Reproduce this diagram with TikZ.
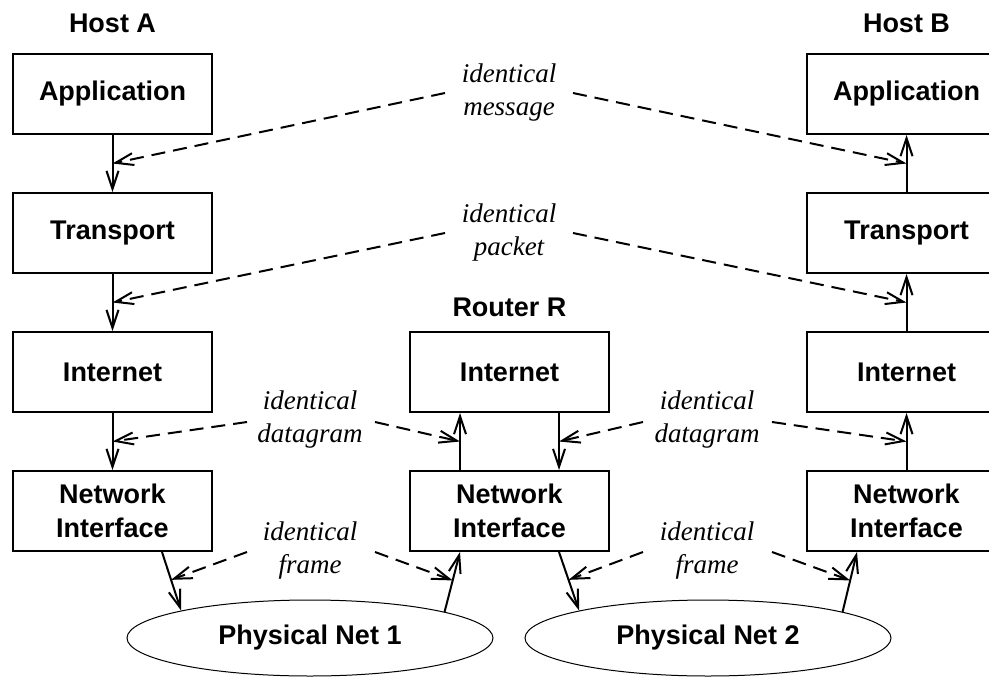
\documentclass[tikz,border=0pt]{standalone}
\usepackage{fontspec}
\setmainfont{Liberation Serif}
\setsansfont{Liberation Sans}
\usetikzlibrary{arrows.meta,shapes.geometric,calc}

\begin{document}
\begin{tikzpicture}[x=1pt,y=-1pt,
  layer/.style={draw,line width=2pt,minimum width=199pt,minimum height=80pt,
    inner sep=0pt,align=center,font=\sffamily\bfseries\fontsize{27}{34}\selectfont},
  title/.style={anchor=base,inner sep=0pt,font=\sffamily\bfseries\fontsize{27}{34}\selectfont},
  net/.style={draw,ellipse,line width=1pt,minimum width=366pt,minimum height=76pt,
    inner sep=0pt,font=\sffamily\bfseries\fontsize{27}{34}\selectfont},
  same/.style={align=center,inner sep=0pt,font=\itshape\fontsize{27}{33}\selectfont},
  arr/.style={line width=2pt,-{Straight Barb[length=18pt,width=12pt]}},
  dasharr/.style={arr,dash pattern=on 14pt off 8pt},
]
\useasboundingbox (0,0) rectangle (989,678);
\clip (0,0) rectangle (989,678);

% column titles
\node[title] (hostA)  at (112.5,32) {Host A};
\node[title] (hostB)  at (906.5,32) {Host B};
\node[title] (router) at (509.5,316) {Router R};

% Host A stack
\node[layer] (appA) at (112.5,94)  {Application};
\node[layer] (trA)  at (112.5,233) {Transport};
\node[layer] (inA)  at (112.5,372) {Internet};
\node[layer] (niA)  at (112.5,511) {Network\\Interface};

% Router R stack
\node[layer] (inR)  at (509.5,372) {Internet};
\node[layer] (niR)  at (509.5,511) {Network\\Interface};

% Host B stack
\node[layer] (appB) at (906.5,94)  {Application};
\node[layer] (trB)  at (906.5,233) {Transport};
\node[layer] (inB)  at (906.5,372) {Internet};
\node[layer] (niB)  at (906.5,511) {Network\\Interface};

% physical networks
\node[net] (net1) at (310,638) {Physical Net 1};
\node[net] (net2) at (708,638) {Physical Net 2};

% "identical" labels
\node[same] (msg)  at (509,93)  {identical\\message};
\node[same] (pkt)  at (509,233) {identical\\packet};
\node[same] (dg1)  at (310,420) {identical\\datagram};
\node[same] (dg2)  at (707,420) {identical\\datagram};
\node[same] (fr1)  at (310,550) {identical\\frame};
\node[same] (fr2)  at (707,550) {identical\\frame};

% data flow down through Host A
\draw[arr] (appA) -- coordinate (tA1) (trA);
\draw[arr] (trA)  -- coordinate (tA2) (inA);
\draw[arr] (inA)  -- coordinate (tA3) (niA);
\draw[arr] ([xshift=49.5pt]niA.south) -- coordinate[pos=0.475] (tA4) (net1.168.5);

% through Router R
\draw[arr] (net1.11.5) -- coordinate[pos=0.525] (tR1) ([xshift=-49.5pt]niR.south);
\draw[arr] ([xshift=-49.5pt]niR.north) -- coordinate (tR2) ([xshift=-49.5pt]inR.south);
\draw[arr] ([xshift=49.5pt]inR.south) -- coordinate (tR3) ([xshift=49.5pt]niR.north);
\draw[arr] ([xshift=49.5pt]niR.south) -- coordinate[pos=0.475] (tR4) (net2.168.5);

% up through Host B
\draw[arr] (net2.11.5) -- coordinate[pos=0.525] (tB4) ([xshift=-49.5pt]niB.south);
\draw[arr] (niB) -- coordinate (tB3) (inB);
\draw[arr] (inB) -- coordinate (tB2) (trB);
\draw[arr] (trB) -- coordinate (tB1) (appB);

% start points of the dashed lines beside each label
\coordinate (msgL) at (445,93);  \coordinate (msgR) at (573,93);
\coordinate (pktL) at (445,233); \coordinate (pktR) at (573,233);
\coordinate (dg1L) at (247,422); \coordinate (dg1R) at (375,422);
\coordinate (dg2L) at (643,422); \coordinate (dg2R) at (772,422);
\coordinate (fr1L) at (247,552); \coordinate (fr1R) at (375,552);
\coordinate (fr2L) at (643,552); \coordinate (fr2R) at (772,552);

% peer correspondences
\draw[dasharr] (msgL) -- (tA1);
\draw[dasharr] (msgR) -- (tB1);
\draw[dasharr] (pktL) -- (tA2);
\draw[dasharr] (pktR) -- (tB2);
\draw[dasharr] (dg1L) -- (tA3);
\draw[dasharr] (dg1R) -- (tR2);
\draw[dasharr] (dg2L) -- (tR3);
\draw[dasharr] (dg2R) -- (tB3);
\draw[dasharr] (fr1L) -- (tA4);
\draw[dasharr] (fr1R) -- (tR1);
\draw[dasharr] (fr2L) -- (tR4);
\draw[dasharr] (fr2R) -- (tB4);
\end{tikzpicture}
\end{document}
